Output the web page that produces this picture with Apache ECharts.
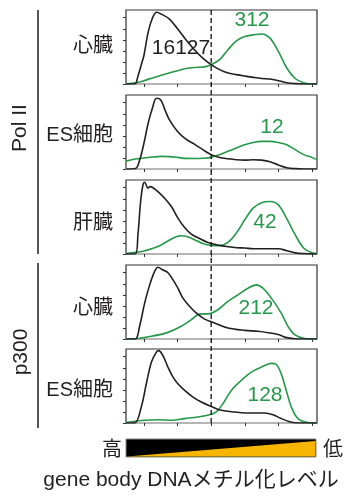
<!DOCTYPE html>
<html><head><meta charset="utf-8">
<script src="https://cdn.jsdelivr.net/npm/echarts@6/dist/echarts.min.js"></script>
<style>html,body{margin:0;padding:0;background:#fff}#c{width:349px;height:497px}</style>
</head><body><div id="c"></div>
<script>
// Panel names and counts
const panelLabels = ['心臓', 'ES細胞', '肝臓', '心臓', 'ES細胞'];
const groupLabels = ['Pol II', 'p300'];
const allGenesCount = '16127';
const greenCounts = ['312', '12', '42', '212', '128'];
const xTicks = [0, 20, 40, 60, 80, 100];
const yTicks = [0, 1, 2, 3, 4, 5, 6];
const cutoff = 40;

// Black curves (all genes) – x = methylation level, y = density
const blackX1 = [-10.7, -5.5, -3.6, -1.6, 0, 2.5, 5, 7.5, 10, 15, 20, 25, 30, 35, 40, 45, 50, 55, 60, 65, 70, 75, 80, 85, 90, 95, 103];
const blackY1 = [0, 0, 0.7, 1.75, 2.6, 4.7, 5.95, 6.5, 6.35, 5.9, 5.0, 4.0, 3.1, 2.35, 1.75, 1.3, 1.0, 0.85, 0.72, 0.6, 0.5, 0.45, 0.3, 0.12, 0.03, 0, 0];
const greenX1 = [-10.7, -5, 0, 5, 10, 15, 20, 25, 30, 35, 40, 45, 50, 55, 60, 65, 70, 75, 80, 85, 90, 95, 100, 103];
const greenY1 = [0, 0.1, 0.3, 0.55, 0.78, 1.0, 1.2, 1.4, 1.5, 1.53, 1.75, 2.2, 3.1, 3.9, 4.3, 4.45, 4.53, 4.15, 2.95, 1.45, 0.5, 0.12, 0, 0];

const blackX2 = [-10.7, -5, -2.5, 0, 2.5, 5, 7.5, 10, 12.5, 15, 20, 25, 30, 35, 40, 45, 50, 55, 60, 65, 70, 75, 80, 85, 90, 95, 103];
const blackY2 = [0, 0.05, 0.85, 2.35, 4.15, 5.5, 6.4, 6.25, 5.35, 4.5, 3.4, 2.7, 2.25, 1.75, 1.3, 1.05, 0.93, 0.84, 0.8, 0.84, 0.8, 0.66, 0.36, 0.12, 0.03, 0, 0];
const greenX2 = [-10.7, -5, 0, 5, 10, 15, 20, 25, 30, 35, 40, 45, 50, 55, 60, 65, 70, 75, 80, 85, 90, 95, 100, 103];
const greenY2 = [0.7, 0.9, 1.0, 1.08, 1.14, 1.12, 1.05, 0.96, 0.95, 0.97, 1.05, 1.3, 1.6, 1.9, 2.2, 2.4, 2.5, 2.5, 2.4, 2.2, 1.75, 1.3, 1.05, 0.85];

const blackX3 = [-10.7, -5.2, -3.6, -2, -0.6, 0.4, 2.4, 3.6, 5.4, 8.3, 12.3, 16.3, 20.2, 24.2, 28.2, 33, 38, 45, 50, 55, 60, 65, 70, 75, 80, 85, 90, 95, 103];
const blackY3 = [0, 0, 1.75, 4.75, 6.25, 6.5, 5.95, 6.1, 6.0, 5.65, 5.05, 4.3, 3.25, 2.4, 1.8, 1.4, 1.05, 0.78, 0.66, 0.57, 0.54, 0.48, 0.48, 0.48, 0.48, 0.3, 0.1, 0.03, 0];
const greenX3 = [-10.7, -5, 0, 5, 10, 15, 20, 22.5, 25, 30, 35, 40, 45, 50, 55, 60, 65, 70, 75, 80, 85, 90, 95, 100, 103];
const greenY3 = [0.05, 0.15, 0.28, 0.5, 0.8, 1.25, 1.6, 1.65, 1.6, 1.3, 0.95, 0.78, 0.75, 1.05, 1.9, 3.1, 4.15, 4.65, 4.75, 4.45, 3.2, 1.75, 0.55, 0.12, 0.05];

const blackX4 = [-10.7, -5.2, -2.6, 0.4, 3.4, 6.3, 8.3, 11.3, 14.3, 17.3, 20.2, 23.2, 27.2, 31.2, 36.1, 42, 50, 60, 67.9, 74.8, 79.8, 85.7, 91.7, 103];
const blackY4 = [0, 0, 1.15, 3.25, 4.9, 6.1, 6.5, 6.25, 6.0, 5.35, 4.6, 3.7, 2.95, 2.35, 1.8, 1.45, 1.0, 0.78, 0.7, 0.55, 0.4, 0.1, 0, 0];
const greenX4 = [-10.7, -7.5, 4.4, 14.3, 22.2, 28.2, 33.1, 39.1, 44, 50, 55.9, 61.9, 66.9, 70.8, 75.8, 81.7, 85.7, 89.7, 95.6, 103];
const greenY4 = [0, 0, 0.25, 0.6, 1.15, 1.75, 2.25, 2.3, 2.65, 3.4, 4.0, 4.6, 4.9, 4.6, 3.7, 2.35, 1.15, 0.4, 0.05, 0];

const blackX5 = [-10.7, -5.6, -1.6, 1.4, 4.4, 7.3, 8.7, 11.3, 14.3, 17.3, 20.2, 24.2, 29.2, 34.1, 40.1, 46, 54, 63.9, 71.8, 76.8, 81.7, 86.7, 91.7, 103];
const blackY5 = [0, 0, 1.45, 3.55, 5.5, 6.4, 6.55, 6.1, 5.05, 4.15, 3.55, 2.95, 2.35, 1.9, 1.5, 1.15, 1.0, 0.9, 0.9, 0.75, 0.4, 0.12, 0, 0];
const greenX5 = [-10.7, 0.4, 8.3, 16.3, 24.2, 32.1, 39.1, 43.1, 47, 52, 57.9, 63.9, 69.8, 75.8, 78.8, 81.7, 84.7, 87.7, 91.7, 97.6, 103];
const greenY5 = [0.05, 0.25, 0.3, 0.25, 0.4, 0.55, 0.75, 1.0, 1.75, 2.95, 3.85, 4.6, 5.05, 5.4, 5.3, 4.45, 2.95, 1.45, 0.4, 0.05, 0];

const blacks = [[blackX1, blackY1], [blackX2, blackY2], [blackX3, blackY3], [blackX4, blackY4], [blackX5, blackY5]];
const greens = [[greenX1, greenY1], [greenX2, greenY2], [greenX3, greenY3], [greenX4, greenY4], [greenX5, greenY5]];

const FONT = "'Liberation Sans', 'Noto Sans CJK JP', sans-serif";
const GREEN = '#26984a';
const DARK = '#231f20';
const gridTops = [10, 95, 180, 265, 349];
const gridH = 74;

const zip = (xs, ys) => xs.map((x, i) => [x, ys[i]]);

const grids = [], xAxes = [], yAxes = [], series = [];
gridTops.forEach((t, i) => {
  grids.push({ left: 126, top: t, width: 191, height: gridH, show: true, borderColor: '#333', borderWidth: 1.2, backgroundColor: 'transparent' });
  xAxes.push({
    type: 'value', gridIndex: i, min: -10.7, max: 103, position: 'bottom',
    axisLine: { show: true, onZero: false, lineStyle: { color: '#b5b5b5', width: 2 } },
    axisTick: { show: true, customValues: xTicks, length: 3, inside: false, lineStyle: { color: '#333', width: 1 } },
    axisLabel: { show: false }, splitLine: { show: false }
  });
  yAxes.push({
    type: 'value', gridIndex: i, min: 0, max: 6.7, interval: 1, position: 'left',
    axisLine: { show: false, onZero: false },
    axisTick: { show: true, customValues: yTicks, length: 3, inside: false, lineStyle: { color: '#333', width: 1 } },
    axisLabel: { show: false }, splitLine: { show: false }
  });
  series.push({
    type: 'line', xAxisIndex: i, yAxisIndex: i, data: zip(greens[i][0], greens[i][1]),
    smooth: 0.35, showSymbol: false, lineStyle: { color: GREEN, width: 1.6 }, z: 3, silent: true
  });
  series.push({
    type: 'line', xAxisIndex: i, yAxisIndex: i, data: zip(blacks[i][0], blacks[i][1]),
    smooth: 0.35, showSymbol: false, lineStyle: { color: DARK, width: 1.6 }, z: 4, silent: true
  });
});

const chart = echarts.init(document.getElementById('c'), null, { renderer: 'canvas' });
chart.setOption({ animation: false, grid: grids, xAxis: xAxes, yAxis: yAxes, series: series });

const txt = (text, x, y, size, color, align, extra) => Object.assign({
  type: 'text', x: x, y: y, z: 10,
  style: { text: text, font: size + 'px ' + FONT, fill: color, align: align || 'center', verticalAlign: 'middle' }
}, extra || {});

const g = [];
// dashed cutoff line through all panels
const pTop = chart.convertToPixel({ gridIndex: 0 }, [cutoff, 6.7]);
const pBot = chart.convertToPixel({ gridIndex: 4 }, [cutoff, 0]);
g.push({ type: 'line', z: 5, shape: { x1: pTop[0], y1: pTop[1], x2: pBot[0], y2: pBot[1] }, style: { stroke: '#111', lineWidth: 1.3, lineDash: [5, 3] } });

// panel labels
const labelYs = [46, 135, 223, 308, 390];
panelLabels.forEach((t, i) => g.push(txt(t, 113, labelYs[i], 20, DARK, 'right')));
// counts
const countPos = [[252, 20], [272, 127], [265, 222], [256, 308], [265, 395]];
greenCounts.forEach((t, i) => g.push(txt(t, countPos[i][0], countPos[i][1], 21, GREEN, 'center')));
g.push(txt(allGenesCount, 181, 48, 21, DARK, 'center'));
// group brackets
g.push({ type: 'line', shape: { x1: 38, y1: 10, x2: 38, y2: 254 }, style: { stroke: '#555', lineWidth: 2 } });
g.push({ type: 'line', shape: { x1: 38, y1: 263, x2: 38, y2: 428 }, style: { stroke: '#555', lineWidth: 2 } });
g.push(txt(groupLabels[0], 20, 128, 21, DARK, 'center', { rotation: Math.PI / 2 }));
g.push(txt(groupLabels[1], 21, 352, 21, DARK, 'center', { rotation: Math.PI / 2 }));
// colour bar
g.push({ type: 'rect', shape: { x: 126, y: 439, width: 190, height: 18 }, style: { fill: '#000', stroke: '#8a8a8a', lineWidth: 1 } });
g.push({ type: 'polygon', shape: { points: [[127, 456.5], [315.5, 441], [315.5, 456.5]] }, style: { fill: '#f6b500' } });
g.push(txt('高', 112, 450, 20, DARK, 'center'));
g.push(txt('低', 333, 450, 20, DARK, 'center'));
g.push(txt('gene body DNAメチル化レベル', 191, 480, 21, DARK, 'center'));

chart.setOption({ graphic: g });
</script></body></html>
